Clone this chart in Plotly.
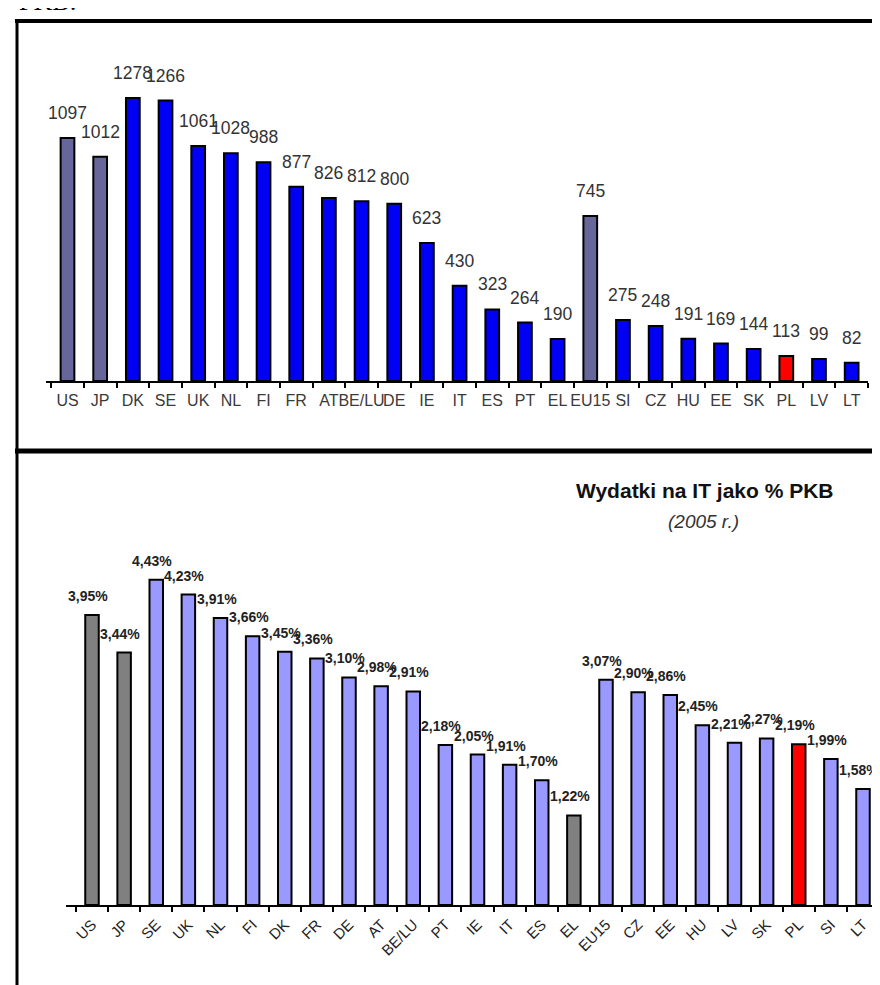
import plotly.graph_objects as go

# ---------------- data ----------------
top_categories = ["US", "JP", "DK", "SE", "UK", "NL", "FI", "FR", "AT", "BE/LU", "DE", "IE", "IT",
                  "ES", "PT", "EL", "EU15", "SI", "CZ", "HU", "EE", "SK", "PL", "LV", "LT"]
top_values = [1097, 1012, 1278, 1266, 1061, 1028, 988, 877, 826, 812, 800, 623, 430,
              323, 264, 190, 745, 275, 248, 191, 169, 144, 113, 99, 82]
top_reference = ["US", "JP", "EU15"]

bottom_categories = ["US", "JP", "SE", "UK", "NL", "FI", "DK", "FR", "DE", "AT", "BE/LU", "PT", "IE",
                     "IT", "ES", "EL", "EU15", "CZ", "EE", "HU", "LV", "SK", "PL", "SI", "LT"]
bottom_values = [3.95, 3.44, 4.43, 4.23, 3.91, 3.66, 3.45, 3.36, 3.10, 2.98, 2.91, 2.18, 2.05,
                 1.91, 1.70, 1.22, 3.07, 2.90, 2.86, 2.45, 2.21, 2.27, 2.19, 1.99, 1.58]
bottom_reference = ["US", "JP", "EL"]
highlight = "PL"

title_text = "Wydatki na IT jako % PKB"
subtitle_text = "(2005 r.)"
header_text = "PKB:"

# ---------------- layout helpers ----------------
W, H = 880, 985
def px_x(p):
    return p / W
def px_y(p):
    return 1 - p / H

FONT = "Liberation Sans, Arial, sans-serif"

top_colors = ["#FF0000" if c == highlight else ("#66669A" if c in top_reference else "#0000F5")
              for c in top_categories]
bottom_colors = ["#FF0000" if c == highlight else ("#808080" if c in bottom_reference else "#9999FF")
                 for c in bottom_categories]

fig = go.Figure()
fig.add_trace(go.Bar(
    x=top_categories, y=top_values, width=0.42,
    marker=dict(color=top_colors, line=dict(color="black", width=2)),
    xaxis="x", yaxis="y", hoverinfo="x+y"))
fig.add_trace(go.Bar(
    x=bottom_categories, y=bottom_values, width=0.42,
    marker=dict(color=bottom_colors, line=dict(color="black", width=2)),
    xaxis="x2", yaxis="y2", hoverinfo="x+y"))

annotations = []
for c, v in zip(top_categories, top_values):
    annotations.append(dict(x=c, y=v, xref="x", yref="y", text=str(v), showarrow=False,
                            yanchor="middle", yshift=25,
                            font=dict(family=FONT, size=17.5, color="#333333")))
for c, v in zip(bottom_categories, bottom_values):
    annotations.append(dict(x=c, y=v, xref="x2", yref="y2",
                            text="<b>" + f"{v:.2f}".replace(".", ",") + "%</b>",
                            showarrow=False, yanchor="middle", yshift=19, xshift=-4,
                            font=dict(family=FONT, size=14, color="#222222")))

annotations.append(dict(x=px_x(697), y=px_y(482), xref="paper", yref="paper",
                        text="<b>" + title_text + "</b>", showarrow=False,
                        xanchor="center", yanchor="middle",
                        font=dict(family=FONT, size=21, color="#111111")))
annotations.append(dict(x=px_x(695), y=px_y(513), xref="paper", yref="paper",
                        text="<i>" + subtitle_text + "</i>", showarrow=False,
                        xanchor="center", yanchor="middle",
                        font=dict(family=FONT, size=19, color="#333333")))
annotations.append(dict(x=px_x(9), y=px_y(10), xref="paper", yref="paper",
                        text=header_text, showarrow=False,
                        xanchor="left", yanchor="bottom",
                        font=dict(family="Liberation Serif, Times New Roman, serif", size=26,
                                  color="#000000")))

top_scale = 0.2215      # px per unit
bot_scale = 73.4        # px per percent

shapes = [
    dict(type="line", xref="paper", yref="paper", x0=px_x(7), x1=1.0, y0=px_y(13), y1=px_y(13),
         line=dict(color="black", width=4), layer="above"),
    dict(type="line", xref="paper", yref="paper", x0=px_x(9), x1=px_x(9), y0=px_y(11), y1=0,
         line=dict(color="black", width=3), layer="above"),
    dict(type="line", xref="paper", yref="paper", x0=px_x(7), x1=1.0, y0=px_y(443), y1=px_y(443),
         line=dict(color="black", width=5), layer="above"),
]

fig.update_layout(
    width=W, height=H, margin=dict(l=0, r=0, t=0, b=0),
    paper_bgcolor="white", plot_bgcolor="white", showlegend=False,
    annotations=annotations, shapes=shapes,
    xaxis=dict(domain=[px_x(38), px_x(860)], anchor="y", type="category",
               tickmode="linear", tick0=0, dtick=1, tickson="boundaries",
               ticks="outside", ticklen=5, tickwidth=2, tickcolor="black",
               showline=True, linecolor="black", linewidth=2, showgrid=False,
               tickangle=0, ticklabelstandoff=4,
               tickfont=dict(family=FONT, size=16, color="#3a3a3a")),
    yaxis=dict(domain=[px_y(373), px_y(30)], anchor="x",
               range=[0, (373 - 30) / top_scale], visible=False),
    xaxis2=dict(domain=[px_x(58), px_x(873)], anchor="y2", type="category",
                tickmode="linear", tick0=0, dtick=1, tickson="boundaries",
                ticks="outside", ticklen=5, tickwidth=2, tickcolor="black",
                showline=True, linecolor="black", linewidth=2, showgrid=False,
                tickangle=-45, ticklabelstandoff=3,
                tickfont=dict(family=FONT, size=15, color="#222222")),
    yaxis2=dict(domain=[px_y(897), px_y(530)], anchor="x2",
                range=[0, (897 - 530) / bot_scale], visible=False),
)

fig.write_html("out.html")
